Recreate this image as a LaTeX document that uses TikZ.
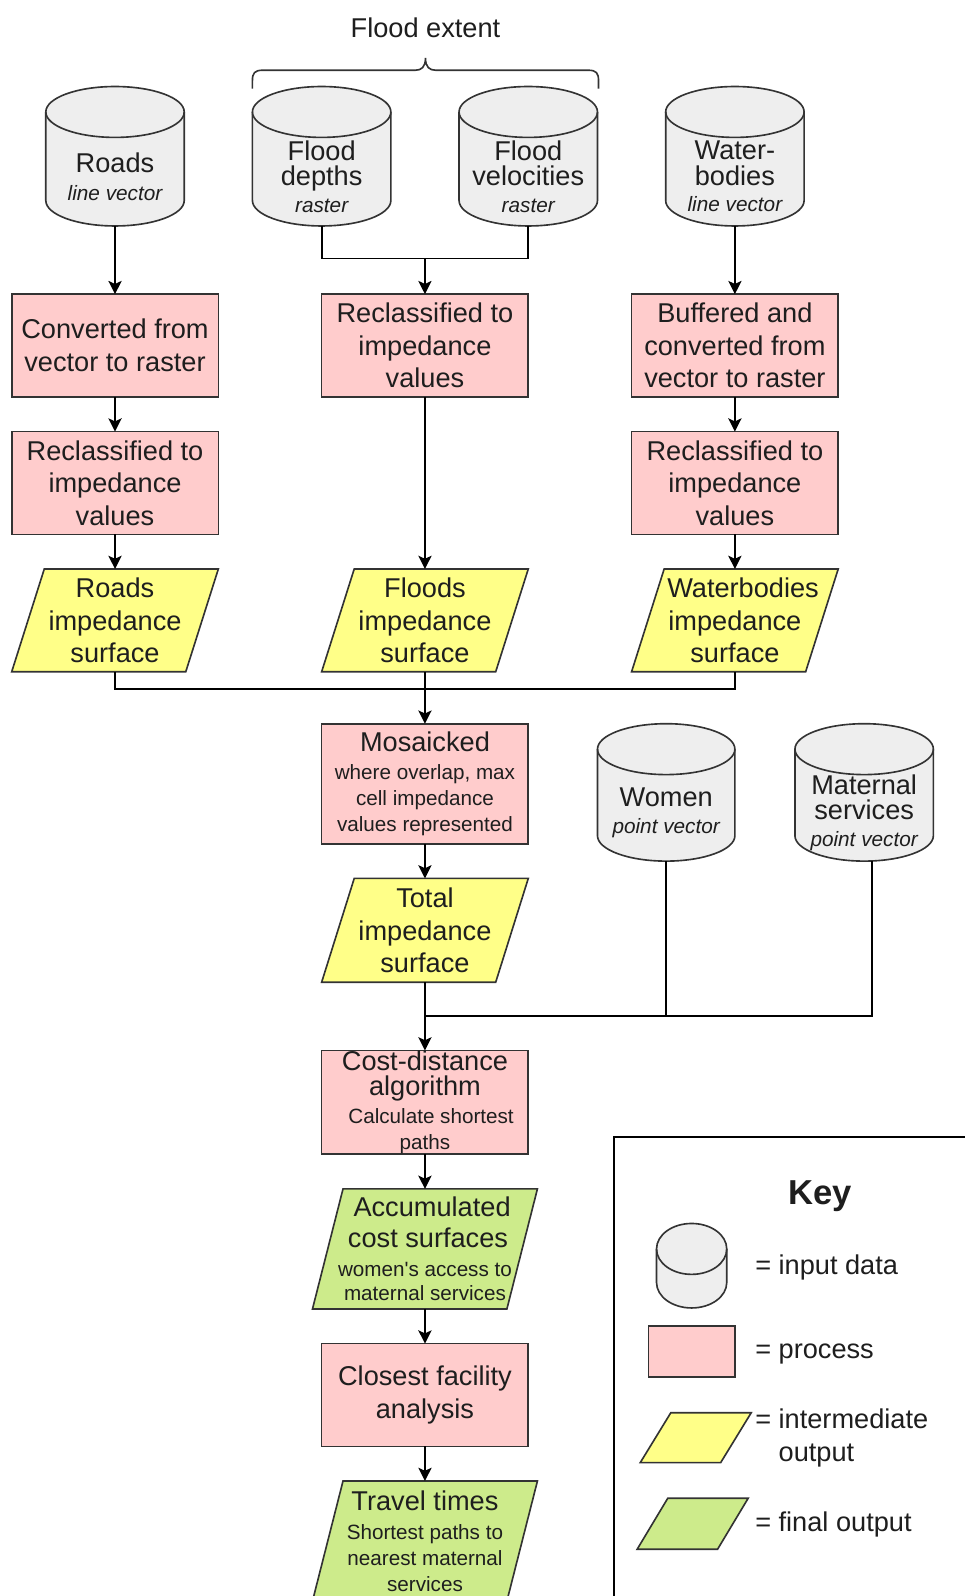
\documentclass[tikz,border=0pt]{standalone}
\usepackage{fontspec}
\setmainfont{Liberation Sans}
\usetikzlibrary{arrows.meta,calc,backgrounds}
\definecolor{pinkf}{HTML}{FFCCCC}
\definecolor{yellowf}{HTML}{FFFF88}
\definecolor{greenf}{HTML}{CDEB8B}
\definecolor{grayf}{HTML}{EEEEEE}
\definecolor{strk}{HTML}{333333}
\definecolor{txtc}{HTML}{1E1E1E}
\newcommand\bigf{\fontsize{26.7}{32}\selectfont}
\newcommand\tightf{\fontsize{26.7}{25}\selectfont}
\newcommand\sm{\fontsize{20.3}{25}\selectfont}
\newcommand\smi{\fontsize{20.4}{25}\selectfont\itshape}
% cylinder outline behind a frame node: #1 name, #2 ellipse y radius
\newcommand\cyl[2]{%
  \path[draw=strk,fill=grayf,line width=1.6pt]
    let \p1=(#1.north west), \p2=(#1.south east), \n1={(\x2-\x1)/2} in
    (\x1,\y1-#2pt) -- (\x1,\y2+#2pt)
    arc[start angle=180,end angle=360,x radius=\n1,y radius=#2pt]
    -- (\x2,\y1-#2pt)
    arc[start angle=0,end angle=180,x radius=\n1,y radius=#2pt] -- cycle;
  \path[draw=strk,line width=1.6pt]
    let \p1=(#1.north west), \p2=(#1.south east), \n1={(\x2-\x1)/2} in
    (\x1,\y1-#2pt)
    arc[start angle=180,end angle=360,x radius=\n1,y radius=#2pt];
}
% parallelogram behind a frame node: #1 name, #2 slant, #3 fill
\newcommand\para[3]{%
  \path[draw=strk,fill=#3,line width=1.6pt]
    let \p1=(#1.north west), \p2=(#1.south east) in
    (\x1,\y2) -- (\x1+#2pt,\y1) -- (\x2,\y1) -- (\x2-#2pt,\y2) -- cycle;
}
\begin{document}
\begin{tikzpicture}[x=1pt,y=-1pt,
  nbase/.style={inner sep=0pt,outer sep=0pt,text=txtc,align=center},
  proc/.style={nbase,draw=strk,fill=pinkf,line width=1.6pt,minimum width=203pt,minimum height=101pt,font=\bigf},
  cylbox/.style={nbase,minimum width=136pt,minimum height=137pt},
  parabox/.style={nbase,font=\bigf,minimum width=203pt,minimum height=101pt},
  cyltxt/.style={nbase,font=\tightf,yshift=-20pt},
  conn/.style={draw=black,line width=1.8pt},
  arr/.style={conn,-{Stealth[length=13pt,width=13pt,inset=3pt]}},
  keytxt/.style={nbase,anchor=west,font=\bigf,align=left},
]
\useasboundingbox (0,0) rectangle (948,1568);

% title and brace
\node[nbase,font=\bigf] (fe) at (418,27) {Flood extent};
\draw[draw=strk,line width=1.6pt] (248,87) -- (248,79) .. controls (248,72) and (250,69) .. (258,69) -- (408,69) .. controls (414,69) and (418,66) .. (418,57) .. controls (418,66) and (422,69) .. (428,69) -- (578,69) .. controls (586,69) and (588,72) .. (588,79) -- (588,87);

% input cylinders
\node[cylbox,label={[cyltxt]center:{Roads\\[2pt]{\smi line vector}}}] (roads) at (113,153.5) {};
\node[cylbox,label={[cyltxt]center:{Flood\\depths\\[1pt]{\smi raster}}}] (depths) at (316,153.5) {};
\node[cylbox,label={[cyltxt]center:{Flood\\velocities\\[1pt]{\smi raster}}}] (vel) at (519,153.5) {};
\node[cylbox,label={[cyltxt]center:{Water-\\bodies\\[1pt]{\smi line vector}}}] (water) at (722,153.5) {};

% processes
\node[proc] (conv) at (113,339.5) {Converted from\\vector to raster};
\node[proc] (recr) at (113,474.5) {Reclassified to\\impedance\\values};
\node[proc] (recf) at (417.5,339.5) {Reclassified to\\impedance\\values};
\node[proc] (buff) at (722,339.5) {Buffered and\\converted from\\vector to raster};
\node[proc] (recw) at (722,474.5) {Reclassified to\\impedance\\values};

% impedance surfaces
\node[parabox] (rimp) at (113,609.5) {Roads\\impedance\\surface};
\node[parabox] (fimp) at (417.5,609.5) {Floods\\impedance\\surface};
\node[parabox] (wimp) at (722,609.5) {\hspace*{16pt}Waterbodies\\impedance\\surface};

\node[proc,minimum height=118pt,font=\tightf] (mos) at (417.5,770) {Mosaicked\\[2pt]{\sm where overlap, max}\\[1pt]{\sm cell impedance}\\{\sm values represented}};

\node[cylbox,minimum width=135pt,minimum height=135pt,label={[cyltxt]center:{Women\\[2pt]{\smi point vector}}}] (women) at (654.5,778.5) {};
\node[cylbox,minimum height=135pt,label={[cyltxt]center:{Maternal\\services\\[1pt]{\smi point vector}}}] (matern) at (849,778.5) {};

\node[parabox,minimum height=102pt] (total) at (417.5,914) {Total\\impedance\\surface};

\node[proc,minimum height=102pt,font=\tightf] (cost) at (417.5,1083) {Cost-distance\\[-1pt]algorithm\\[3pt]{\sm\hspace*{12pt}Calculate shortest}\\{\sm paths}};

\node[parabox,minimum width=221pt,minimum height=118pt,font=\tightf] (accum) at (417.5,1227) {\hspace*{14pt}Accumulated\\[6pt]\hspace*{6pt}cost surfaces\\[3pt]{\sm women\textquotesingle s access to}\\[-1pt]{\sm maternal services}};

\node[proc] (closest) at (417.5,1370.5) {Closest facility\\analysis};

\node[parabox,minimum width=221pt,minimum height=118pt,font=\tightf] (travel) at (417.5,1514) {Travel times\\[3pt]{\sm Shortest paths to}\\[1pt]{\sm nearest maternal}\\{\sm services}};

% key
\draw[draw=black,line width=1.6pt] (603,1620) -- (603,1117) -- (990,1117);
\node[nbase,font=\fontsize{34}{40}\selectfont\bfseries] (keyt) at (806,1175) {Key};
\node[nbase,minimum width=69pt,minimum height=83pt] (kcyl) at (679.5,1243.5) {};
\node[nbase,draw=strk,fill=pinkf,line width=1.6pt,minimum width=85pt,minimum height=50pt] (kproc) at (679.5,1328) {};
\node[nbase,minimum width=109pt,minimum height=49pt] (kyel) at (683.5,1412.5) {};
\node[nbase,minimum width=109pt,minimum height=50pt] (kgrn) at (680.5,1497) {};
\node[keytxt] (kl1) at (742,1245) {= input data};
\node[keytxt] (kl2) at (742,1330) {= process};
\node[keytxt] (kl3) at (742,1413) {= intermediate\\\phantom{= }output};
\node[keytxt] (kl4) at (742,1498) {= final output};

% background shapes
\begin{scope}[on background layer]
  \fill[white] (0,0) rectangle (948,1568);
  \cyl{roads}{25}
  \cyl{depths}{25}
  \cyl{vel}{25}
  \cyl{water}{25}
  \cyl{women}{25}
  \cyl{matern}{25}
  \cyl{kcyl}{25}
  \para{rimp}{32}{yellowf}
  \para{fimp}{32}{yellowf}
  \para{wimp}{32}{yellowf}
  \para{total}{32}{yellowf}
  \para{accum}{30}{greenf}
  \para{travel}{30}{greenf}
  \para{kyel}{30}{yellowf}
  \para{kgrn}{30}{greenf}
\end{scope}

% connectors
\coordinate (j1) at (417.5,254);
\coordinate (j2) at (417.5,677);
\coordinate (j3) at (417.5,998);
\coordinate (matb) at ($(matern.south)+(8,0)$);

\draw[arr] (roads.south) -- (conv.north);
\draw[arr] (conv.south) -- (recr.north);
\draw[arr] (recr.south) -- (rimp.north);

\draw[conn] (depths.south) |- (j1) -| (vel.south);
\draw[arr] (j1) -- (recf.north);
\draw[arr] (recf.south) -- (fimp.north);

\draw[arr] (water.south) -- (buff.north);
\draw[arr] (buff.south) -- (recw.north);
\draw[arr] (recw.south) -- (wimp.north);

\draw[conn] (rimp.south) |- (j2) -| (wimp.south);
\draw[arr] (fimp.south) -- (mos.north);
\draw[arr] (mos.south) -- (total.north);

\draw[conn] (total.south) -- (j3) -| (matb);
\draw[conn] (women.south) -- (women.south |- j3);
\draw[arr] (j3) -- (cost.north);
\draw[arr] (cost.south) -- (accum.north);
\draw[arr] (accum.south) -- (closest.north);
\draw[arr] (closest.south) -- (travel.north);
\end{tikzpicture}
\end{document}
